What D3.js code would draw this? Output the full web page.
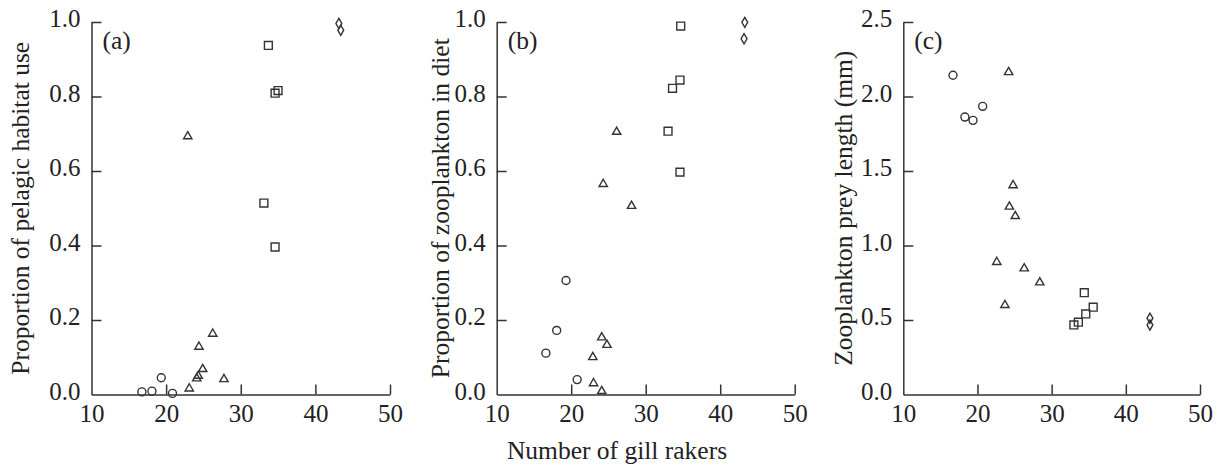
<!DOCTYPE html>
<html>
<head>
<meta charset="utf-8">
<script src="https://cdn.jsdelivr.net/npm/d3@7"></script>
<style>
  body { margin: 0; background: #fff; }
  text { font-family: "Liberation Serif", "Times New Roman", serif; fill: #222; }
</style>
</head>
<body>
<div id="container"></div>
<script>
const w = 1226,
  h = 473,
  plotTop = 22,
  plotBottom = 394.5,
  tickLen = 10,
  fontSize = 25.5;

// x = number of gill rakers, y = response
const habitatCircles = [[16.75, 0.007], [18.1, 0.009], [19.35, 0.045], [20.85, 0.003]];
const habitatTriangles = [[22.9, 0.693], [23.1, 0.016], [24.1, 0.043], [24.3, 0.05], [24.9, 0.068],
  [24.4, 0.128], [26.25, 0.163], [27.75, 0.041]];
const habitatSquares = [[33.7, 0.937], [34.6, 0.809], [35.0, 0.816], [33.1, 0.514], [34.6, 0.396]];
const habitatDiamonds = [[43.15, 0.996], [43.4, 0.978]];

const dietCircles = [[16.6, 0.111], [18.05, 0.172], [19.3, 0.306], [20.8, 0.04]];
const dietTriangles = [[26.1, 0.705], [24.3, 0.565], [28.1, 0.506], [24.1, 0.153], [24.8, 0.133],
  [22.9, 0.1], [23.0, 0.03], [24.1, 0.009]];
const dietSquares = [[34.7, 0.989], [34.6, 0.844], [33.6, 0.822], [33.0, 0.707], [34.6, 0.597]];
const dietDiamonds = [[43.3, 0.999], [43.2, 0.955]];

const preyCircles = [[16.7, 2.143], [18.3, 1.862], [19.4, 1.84], [20.7, 1.934]];
const preyTriangles = [[24.2, 2.163], [24.8, 1.404], [24.3, 1.26], [25.1, 1.197], [22.6, 0.889],
  [26.3, 0.846], [28.4, 0.752], [23.7, 0.6]];
const preySquares = [[34.4, 0.683], [35.6, 0.586], [34.6, 0.541], [33.6, 0.485], [33.0, 0.467]];
const preyDiamonds = [[43.25, 0.512], [43.25, 0.467]];

const xTicks = [10, 20, 30, 40, 50];
const propTicks = [0, 0.2, 0.4, 0.6, 0.8, 1.0];
const lengthTicks = [0, 0.5, 1.0, 1.5, 2.0, 2.5];

const panels = [
  { label: '(a)', title: 'Proportion of pelagic habitat use', left: 91.5, right: 390, titleX: 29,
    yMax: 1, yTicks: propTicks, groups: [habitatCircles, habitatTriangles, habitatSquares, habitatDiamonds] },
  { label: '(b)', title: 'Proportion of zooplankton in diet', left: 496.7, right: 794.7, titleX: 448.5,
    yMax: 1, yTicks: propTicks, groups: [dietCircles, dietTriangles, dietSquares, dietDiamonds] },
  { label: '(c)', title: 'Zooplankton prey length (mm)', left: 903.3, right: 1200, titleX: 852,
    yMax: 2.5, yTicks: lengthTicks, groups: [preyCircles, preyTriangles, preySquares, preyDiamonds] },
];

const shapes = [
  d3.symbol().type(d3.symbolCircle).size(50),
  d3.symbol().type(d3.symbolTriangle).size(30),
  d3.symbol().type(d3.symbolSquare).size(62),
  d3.symbol().type(d3.symbolDiamond).size(30),
];

const svg = d3
  .select('#container')
  .append('svg')
  .attr('width', w)
  .attr('height', h);

svg.append('rect').attr('width', w).attr('height', h).attr('fill', '#fff');

panels.forEach((p) => {
  const xScale = d3.scaleLinear().domain([10, 50]).range([p.left, p.right]);
  const yScale = d3.scaleLinear().domain([0, p.yMax]).range([plotBottom, plotTop]);

  const xAxis = d3
    .axisBottom(xScale)
    .tickValues(xTicks)
    .tickSize(-tickLen)
    .tickSizeOuter(0)
    .tickPadding(9.5)
    .tickFormat(d3.format('d'));

  const yAxis = d3
    .axisLeft(yScale)
    .tickValues(p.yTicks)
    .tickSize(-tickLen)
    .tickSizeOuter(0)
    .tickPadding(11)
    .tickFormat(d3.format('.1f'));

  const gx = svg
    .append('g')
    .attr('transform', 'translate(0, ' + plotBottom + ')')
    .call(xAxis);

  const gy = svg
    .append('g')
    .attr('transform', 'translate(' + p.left + ', 0)')
    .call(yAxis);

  [gx, gy].forEach((g) => {
    g.selectAll('path, line').attr('stroke', '#333').attr('stroke-width', 1.5);
    g.selectAll('text')
      .attr('font-family', '"Liberation Serif", serif')
      .attr('font-size', 25)
      .attr('fill', '#222');
  });
  gy.selectAll('text').attr('dy', '0.18em');
  gx.selectAll('.tick').filter((d) => d === 10).select('line').remove();
  gy.selectAll('.tick').filter((d) => d === 0).select('line').remove();

  svg
    .append('text')
    .text(p.label)
    .attr('x', p.left + 11)
    .attr('y', plotTop + 26.5)
    .attr('font-size', fontSize);

  svg
    .append('text')
    .text(p.title)
    .attr('transform', 'translate(' + p.titleX + ', ' + (plotTop + plotBottom) / 2 + ') rotate(-90)')
    .attr('text-anchor', 'middle')
    .attr('font-size', fontSize);

  p.groups.forEach((pts, i) => {
    svg
      .append('g')
      .selectAll('path')
      .data(pts)
      .enter()
      .append('path')
      .attr('d', shapes[i])
      .attr('transform', (d) => 'translate(' + xScale(d[0]) + ', ' + yScale(d[1]) + ')')
      .attr('fill', 'none')
      .attr('stroke', '#333')
      .attr('stroke-width', 1.4);
  });
});

svg
  .append('text')
  .text('Number of gill rakers')
  .attr('x', 617)
  .attr('y', 458.5)
  .attr('text-anchor', 'middle')
  .attr('font-size', fontSize);
</script>
</body>
</html>
